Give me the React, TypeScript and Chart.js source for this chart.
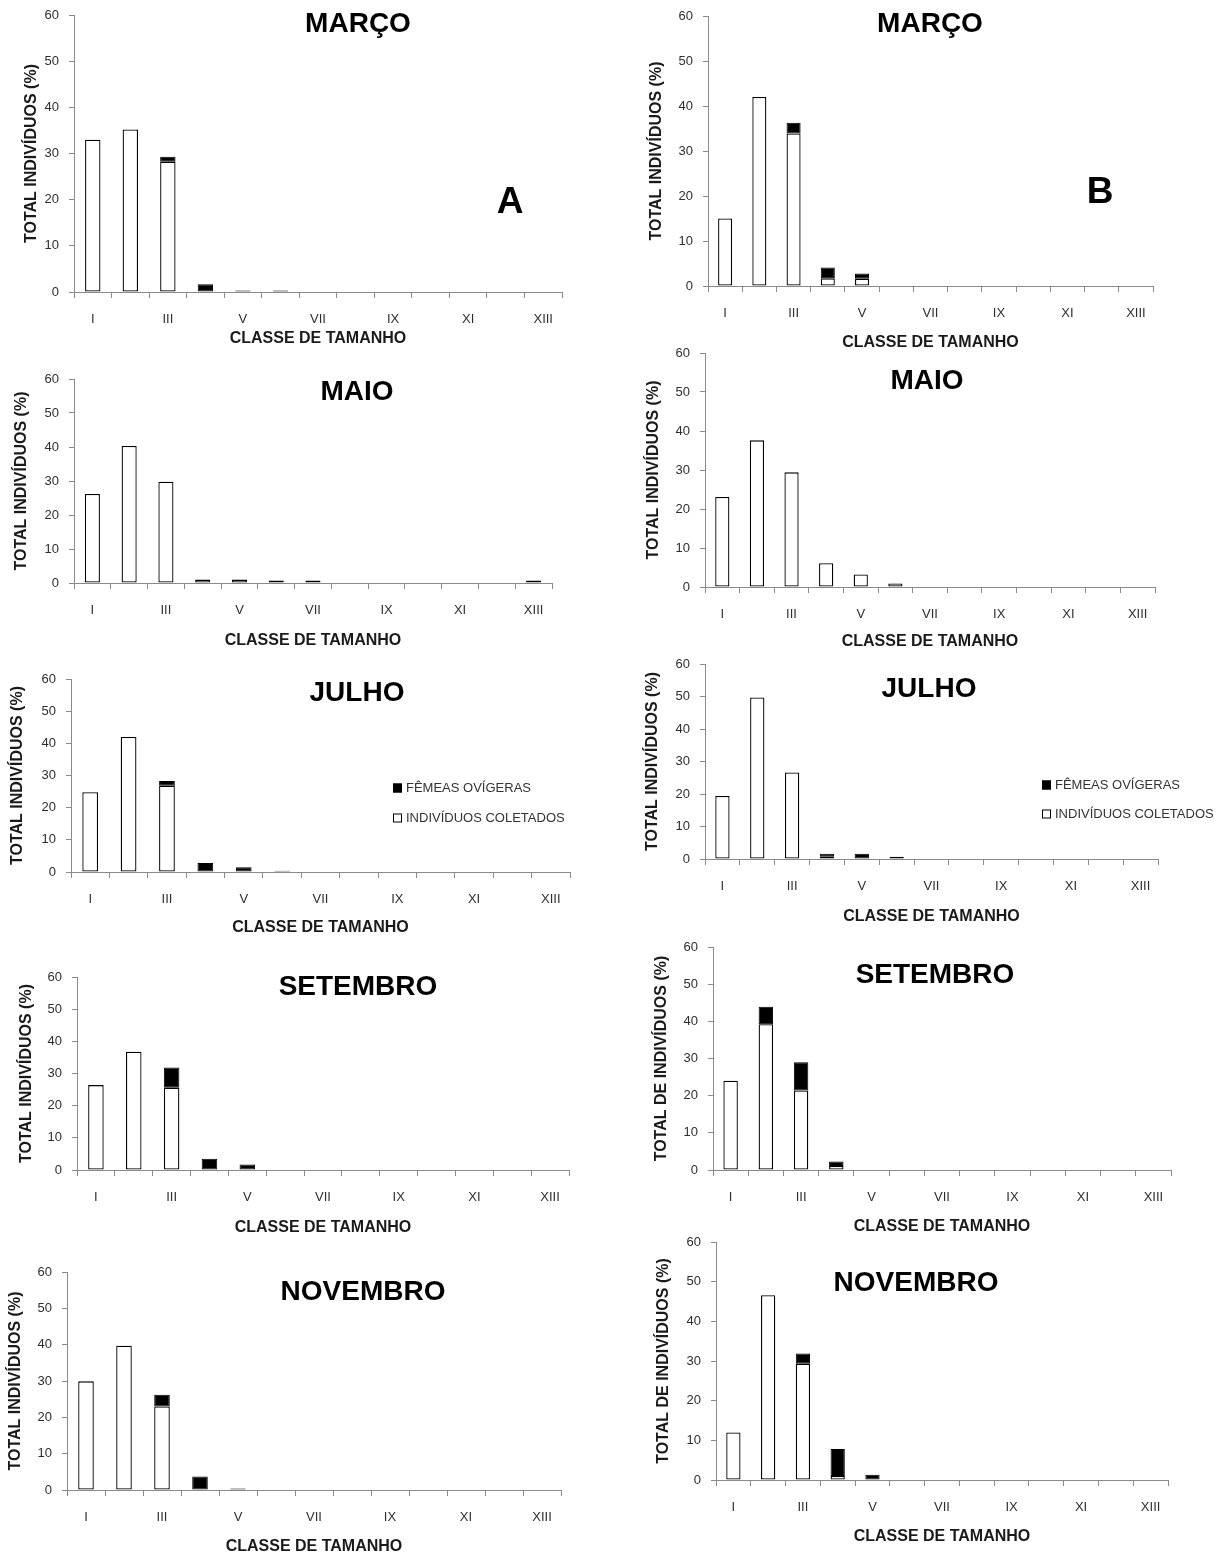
import React, { useEffect, useRef } from "react";
import { Chart, registerables } from "chart.js";

Chart.register(...registerables);

// ---------- DATA ----------
const categories = ["I", "II", "III", "IV", "V", "VI", "VII", "VIII", "IX", "X", "XI", "XII", "XIII"];
const xTickLabels = ["I", "", "III", "", "V", "", "VII", "", "IX", "", "XI", "", "XIII"];
const yTickValues = [0, 10, 20, 30, 40, 50, 60];
const seriesNames = ["INDIVÍDUOS COLETADOS", "FÊMEAS OVÍGERAS"];
const monthTitles = ["MARÇO", "MAIO", "JULHO", "SETEMBRO", "NOVEMBRO"];
const xAxisTitle = "CLASSE DE TAMANHO";
const yTitleShort = "TOTAL INDIVÍDUOS (%)";
const yTitleLong = "TOTAL DE INDIVÍDUOS (%)";

// Panel A
const aMarcoColetados = [33, 35.2, 28.2, 0, 0.3, 0.3, 0, 0, 0, 0, 0, 0, 0];
const aMarcoOvigeras = [0, 0, 1.1, 1.7, 0, 0, 0, 0, 0, 0, 0, 0, 0];
const aMaioColetados = [26.2, 40.3, 29.8, 1.0, 1.0, 0.7, 0.7, 0, 0, 0, 0, 0, 0.7];
const aMaioOvigeras = [0, 0, 0, 0, 0, 0, 0, 0, 0, 0, 0, 0, 0];
const aJulhoColetados = [24.8, 42.0, 26.8, 0, 0, 0, 0, 0, 0, 0, 0, 0, 0];
const aJulhoOvigeras = [0, 0, 1.5, 2.8, 1.5, 0.4, 0, 0, 0, 0, 0, 0, 0];
const aSetembroColetados = [26.4, 36.8, 25.6, 0, 0, 0, 0, 0, 0, 0, 0, 0, 0];
const aSetembroOvigeras = [0, 0, 6.3, 3.5, 1.7, 0, 0, 0, 0, 0, 0, 0, 0];
const aNovembroColetados = [29.9, 39.7, 23.0, 0, 0.4, 0, 0, 0, 0, 0, 0, 0, 0];
const aNovembroOvigeras = [0, 0, 3.2, 3.7, 0, 0, 0, 0, 0, 0, 0, 0, 0];

// Panel B
const bMarcoColetados = [15.0, 42.0, 33.9, 1.7, 1.6, 0, 0, 0, 0, 0, 0, 0, 0];
const bMarcoOvigeras = [0, 0, 2.4, 2.4, 1.2, 0, 0, 0, 0, 0, 0, 0, 0];
const bMaioColetados = [23.1, 37.6, 29.4, 6.1, 3.2, 0.9, 0, 0, 0, 0, 0, 0, 0];
const bMaioOvigeras = [0, 0, 0, 0, 0, 0, 0, 0, 0, 0, 0, 0, 0];
const bJulhoColetados = [19.4, 49.7, 26.6, 0.7, 0, 0.7, 0, 0, 0, 0, 0, 0, 0];
const bJulhoOvigeras = [0, 0, 0, 0.9, 1.6, 0, 0, 0, 0, 0, 0, 0, 0];
const bSetembroColetados = [24.0, 39.2, 21.4, 1.1, 0, 0, 0, 0, 0, 0, 0, 0, 0];
const bSetembroOvigeras = [0, 4.7, 7.6, 1.2, 0, 0, 0, 0, 0, 0, 0, 0, 0];
const bNovembroColetados = [12.0, 46.6, 29.3, 1.0, 0, 0, 0, 0, 0, 0, 0, 0, 0];
const bNovembroOvigeras = [0, 0, 2.6, 6.8, 1.3, 0, 0, 0, 0, 0, 0, 0, 0];

// ---------- LAYOUT (page coordinates) ----------
type Panel = {
  title: string;
  coletados: number[];
  ovigeras: number[];
  yTitle: string;
  L: number; R: number; T: number; B: number;
  tx: number; ty: number;
  ytx: number; xty: number;
  legend?: { x: number; y1: number; y2: number };
  letter?: { text: string; x: number; y: number };
};

const panels: Panel[] = [
  { title: monthTitles[0], coletados: aMarcoColetados, ovigeras: aMarcoOvigeras, yTitle: yTitleShort,
    L: 74, R: 562, T: 15, B: 292, tx: 358, ty: 24, ytx: 32, xty: 339, letter: { text: "A", x: 510, y: 203 } },
  { title: monthTitles[1], coletados: aMaioColetados, ovigeras: aMaioOvigeras, yTitle: yTitleShort,
    L: 74, R: 552, T: 379, B: 583, tx: 357, ty: 392, ytx: 22, xty: 641 },
  { title: monthTitles[2], coletados: aJulhoColetados, ovigeras: aJulhoOvigeras, yTitle: yTitleShort,
    L: 71, R: 570, T: 679, B: 872, tx: 357, ty: 693, ytx: 18, xty: 928, legend: { x: 393, y1: 788, y2: 818 } },
  { title: monthTitles[3], coletados: aSetembroColetados, ovigeras: aSetembroOvigeras, yTitle: yTitleShort,
    L: 77, R: 569, T: 977, B: 1170, tx: 358, ty: 987, ytx: 27, xty: 1228 },
  { title: monthTitles[4], coletados: aNovembroColetados, ovigeras: aNovembroOvigeras, yTitle: yTitleShort,
    L: 67, R: 561, T: 1272, B: 1490, tx: 363, ty: 1292, ytx: 16, xty: 1547 },
  { title: monthTitles[0], coletados: bMarcoColetados, ovigeras: bMarcoOvigeras, yTitle: yTitleShort,
    L: 708, R: 1153, T: 16, B: 286, tx: 930, ty: 24, ytx: 657, xty: 343, letter: { text: "B", x: 1100, y: 193 } },
  { title: monthTitles[1], coletados: bMaioColetados, ovigeras: bMaioOvigeras, yTitle: yTitleShort,
    L: 705, R: 1155, T: 353, B: 587, tx: 927, ty: 381, ytx: 654, xty: 642 },
  { title: monthTitles[2], coletados: bJulhoColetados, ovigeras: bJulhoOvigeras, yTitle: yTitleShort,
    L: 705, R: 1158, T: 664, B: 859, tx: 929, ty: 689, ytx: 653, xty: 917, legend: { x: 1042, y1: 785, y2: 814 } },
  { title: monthTitles[3], coletados: bSetembroColetados, ovigeras: bSetembroOvigeras, yTitle: yTitleLong,
    L: 713, R: 1171, T: 947, B: 1170, tx: 935, ty: 975, ytx: 662, xty: 1227 },
  { title: monthTitles[4], coletados: bNovembroColetados, ovigeras: bNovembroOvigeras, yTitle: yTitleLong,
    L: 716, R: 1168, T: 1242, B: 1480, tx: 916, ty: 1283, ytx: 664, xty: 1537 },
];

const PL = 75, PT = 25, PR = 70, PB = 75;
const YW = 40, XH = 40;
const axisGray = "#8a8a8a";
const tickColor = "#2e2e2e";
const FONT = '"Liberation Sans", Arial, sans-serif';

function PanelChart({ p }: { p: Panel }) {
  const ref = useRef<HTMLCanvasElement | null>(null);
  const cLeft = p.L - PL;
  const cTop = p.T - PT;
  const w = p.R - p.L + PL + PR;
  const h = p.B - p.T + PT + PB;

  useEffect(() => {
    if (!ref.current) return;
    const textPlugin = {
      id: "panelTexts",
      afterDraw(chart: any) {
        const ctx = chart.ctx as CanvasRenderingContext2D;
        const ca = chart.chartArea;
        ctx.save();
        ctx.textAlign = "center";
        ctx.textBaseline = "middle";
        // month title
        ctx.fillStyle = "#000";
        ctx.font = `bold 28px ${FONT}`;
        ctx.fillText(p.title, p.tx - cLeft, p.ty - cTop);
        // letter
        if (p.letter) {
          ctx.font = `bold 37px ${FONT}`;
          ctx.fillText(p.letter.text, p.letter.x - cLeft, p.letter.y - cTop);
        }
        // x axis title
        ctx.fillStyle = "#1a1a1a";
        ctx.font = `bold 16px ${FONT}`;
        ctx.fillText(xAxisTitle, (ca.left + ca.right) / 2, p.xty - cTop);
        // y axis title
        ctx.save();
        ctx.translate(p.ytx - cLeft, (ca.top + ca.bottom) / 2);
        ctx.rotate(-Math.PI / 2);
        ctx.fillText(p.yTitle, 0, 0);
        ctx.restore();
        // legend
        if (p.legend) {
          const ds = chart.data.datasets;
          const rows = [
            { ds: ds[1], y: p.legend.y1 },
            { ds: ds[0], y: p.legend.y2 },
          ];
          ctx.font = `13px ${FONT}`;
          ctx.textAlign = "left";
          for (const r of rows) {
            const x = p.legend.x - cLeft;
            const y = r.y - cTop;
            ctx.fillStyle = r.ds.backgroundColor;
            ctx.fillRect(x, y - 4.5, 9, 9);
            ctx.strokeStyle = "#000";
            ctx.lineWidth = 1;
            ctx.strokeRect(x + 0.5, y - 4, 8, 8);
            ctx.fillStyle = "#333";
            ctx.fillText(r.ds.label, x + 13, y + 0.5);
          }
        }
        ctx.restore();
      },
    };

    const chart = new Chart(ref.current, {
      type: "bar",
      data: {
        labels: categories,
        datasets: [
          {
            label: seriesNames[0],
            data: p.coletados.map((v) => (v ? v : null)),
            backgroundColor: "#ffffff",
            borderColor: "#000000",
            borderWidth: 1.3,
            borderSkipped: false,
            barPercentage: 0.41,
            categoryPercentage: 1,
            stack: "s",
          },
          {
            label: seriesNames[1],
            data: p.ovigeras.map((v) => (v ? v : null)),
            backgroundColor: "#000000",
            borderColor: "#000000",
            borderWidth: 1,
            borderSkipped: false,
            barPercentage: 0.41,
            categoryPercentage: 1,
            stack: "s",
          },
        ],
      },
      options: {
        responsive: false,
        maintainAspectRatio: false,
        animation: false,
        devicePixelRatio: 1,
        layout: { padding: { left: PL - YW, top: PT, right: PR, bottom: PB - XH } },
        plugins: {
          legend: { display: false },
          tooltip: { enabled: false },
          title: { display: false },
        },
        scales: {
          x: {
            stacked: true,
            afterFit: (s: any) => { s.height = XH; },
            grid: { offset: true, drawOnChartArea: false, drawTicks: true, tickLength: 6, color: axisGray, lineWidth: 1 },
            border: { display: true, color: axisGray, width: 1 },
            ticks: {
              autoSkip: false,
              maxRotation: 0,
              minRotation: 0,
              padding: 14,
              color: tickColor,
              font: { family: FONT, size: 13 },
              callback: (_v: any, i: number) => xTickLabels[i],
            },
          },
          y: {
            stacked: true,
            min: 0,
            max: 60,
            afterFit: (s: any) => { s.width = YW; },
            afterBuildTicks: (s: any) => { s.ticks = yTickValues.map((v) => ({ value: v })); },
            grid: { drawOnChartArea: false, drawTicks: true, tickLength: 5, color: axisGray, lineWidth: 1 },
            border: { display: true, color: axisGray, width: 1 },
            ticks: {
              padding: 10,
              color: tickColor,
              font: { family: FONT, size: 13 },
            },
          },
        },
      } as any,
      plugins: [textPlugin],
    });
    return () => chart.destroy();
  }, []);

  return (
    <canvas
      ref={ref}
      width={w}
      height={h}
      style={{ position: "absolute", left: cLeft, top: cTop, width: w, height: h }}
    />
  );
}

export default function App() {
  return (
    <div
      style={{
        position: "absolute",
        left: 0,
        top: 0,
        width: 1228,
        height: 1555,
        overflow: "hidden",
        background: "#ffffff",
      }}
    >
      {panels.map((p, i) => (
        <PanelChart key={i} p={p} />
      ))}
    </div>
  );
}
